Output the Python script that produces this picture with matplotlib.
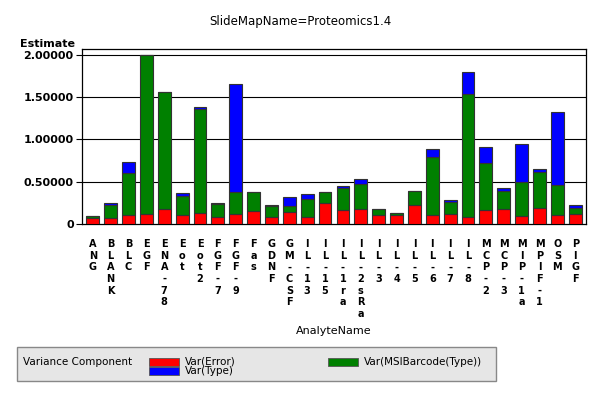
import matplotlib
matplotlib.use("Agg")
import matplotlib.pyplot as plt
import numpy as np
from matplotlib.patches import Rectangle

categories = ["ANG", "BLANK", "BLC", "EGF", "ENA-78", "Eot", "Eot2", "FGF-7", "FGF-9", "Fas",
              "GDNF", "GM-CSF", "IL-13", "IL-15", "IL-1ra", "IL-2sRa", "IL-3", "IL-4", "IL-5",
              "IL-6", "IL-7", "IL-8", "MCP-2", "MCP-3", "MIP-1a", "MPIF-1", "OSM", "PlGF"]
var_error = [0.075, 0.067, 0.107, 0.115, 0.178, 0.103, 0.126, 0.079, 0.119, 0.150,
             0.079, 0.146, 0.087, 0.245, 0.162, 0.178, 0.103, 0.103, 0.221,
             0.111, 0.123, 0.087, 0.162, 0.178, 0.091, 0.186, 0.103, 0.115]
var_msi = [0.015, 0.158, 0.498, 1.885, 1.387, 0.225, 1.234, 0.154, 0.256, 0.225,
           0.131, 0.071, 0.213, 0.135, 0.269, 0.296, 0.071, 0.031, 0.166,
           0.679, 0.142, 1.451, 0.565, 0.213, 0.403, 0.434, 0.359, 0.079]
var_type = [0.0, 0.020, 0.125, 0.0, 0.0, 0.036, 0.023, 0.020, 1.285, 0.0,
            0.015, 0.107, 0.052, 0.0, 0.024, 0.064, 0.0, 0.0, 0.0,
            0.095, 0.024, 0.262, 0.186, 0.032, 0.451, 0.028, 0.862, 0.027]

RED, GREEN, BLUE = "#FF0000", "#008000", "#0000FF"
EDGE = "#333333"

fig = plt.figure(figsize=(6, 4), dpi=100)
ax = fig.add_axes([82/600, 1-224/400, (586-82)/600, (224-49)/400])

x = np.arange(len(categories))
w = 0.72
e = np.array(var_error); m = np.array(var_msi); t = np.array(var_type)
ax.bar(x, e, w, color=RED, edgecolor=EDGE, linewidth=0.8, zorder=3)
ax.bar(x, m, w, bottom=e, color=GREEN, edgecolor=EDGE, linewidth=0.8, zorder=3)
ax.bar(x, t, w, bottom=e+m, color=BLUE, edgecolor=EDGE, linewidth=0.8, zorder=3)

ax.set_xlim(-0.6, len(categories)-0.4)
ax.set_ylim(0, 2.07)
yt = [0, 0.5, 1.0, 1.5, 2.0]
ax.set_yticks(yt)
ax.set_yticklabels(["0", "0.50000", "1.00000", "1.50000", "2.00000"],
                   fontsize=8, fontweight="bold", family="DejaVu Sans")
for y in yt[1:]:
    ax.axhline(y, color="black", linewidth=0.8, zorder=1)
ax.set_xticks(x)
ax.set_xticklabels(["\n".join(c) for c in categories], fontsize=7,
                   fontweight="bold", family="DejaVu Sans", linespacing=1.2, va="top")
ax.tick_params(axis="x", length=0, pad=11)
ax.tick_params(axis="y", length=4, width=0.8, pad=2)
for s in ax.spines.values():
    s.set_color("black"); s.set_linewidth(0.9)

fig.text(300/600, 1-22/400, "SlideMapName=Proteomics1.4", ha="center", va="center",
         fontsize=8.5, family="DejaVu Sans")
fig.text(20/600, 1-44/400, "Estimate", ha="left", va="center", fontsize=8,
         fontweight="bold", family="DejaVu Sans")
fig.text(334/600, 1-331/400, "AnalyteName", ha="center", va="center", fontsize=8,
         family="DejaVu Sans")

fig.patches.append(Rectangle((17/600, 1-381/400), (496-17)/600, (381-347)/400,
                             transform=fig.transFigure, facecolor="#E6E6E6",
                             edgecolor="#888888", linewidth=1))
fig.text(23/600, 1-362/400, "Variance Component", ha="left", va="center", fontsize=7.5,
         family="DejaVu Sans")
def patch(x0, y0, col, label):
    fig.patches.append(Rectangle((x0/600, 1-(y0+8)/400), 30/600, 8/400,
                                 transform=fig.transFigure, facecolor=col,
                                 edgecolor="#555555", linewidth=0.6))
    fig.text((x0+36)/600, 1-(y0+4)/400, label, ha="left", va="center", fontsize=7.5,
             family="DejaVu Sans")
patch(149, 358, RED, "Var(Error)")
patch(149, 367, BLUE, "Var(Type)")
patch(328, 358, GREEN, "Var(MSIBarcode(Type))")

fig.savefig("out.png", dpi=100)
